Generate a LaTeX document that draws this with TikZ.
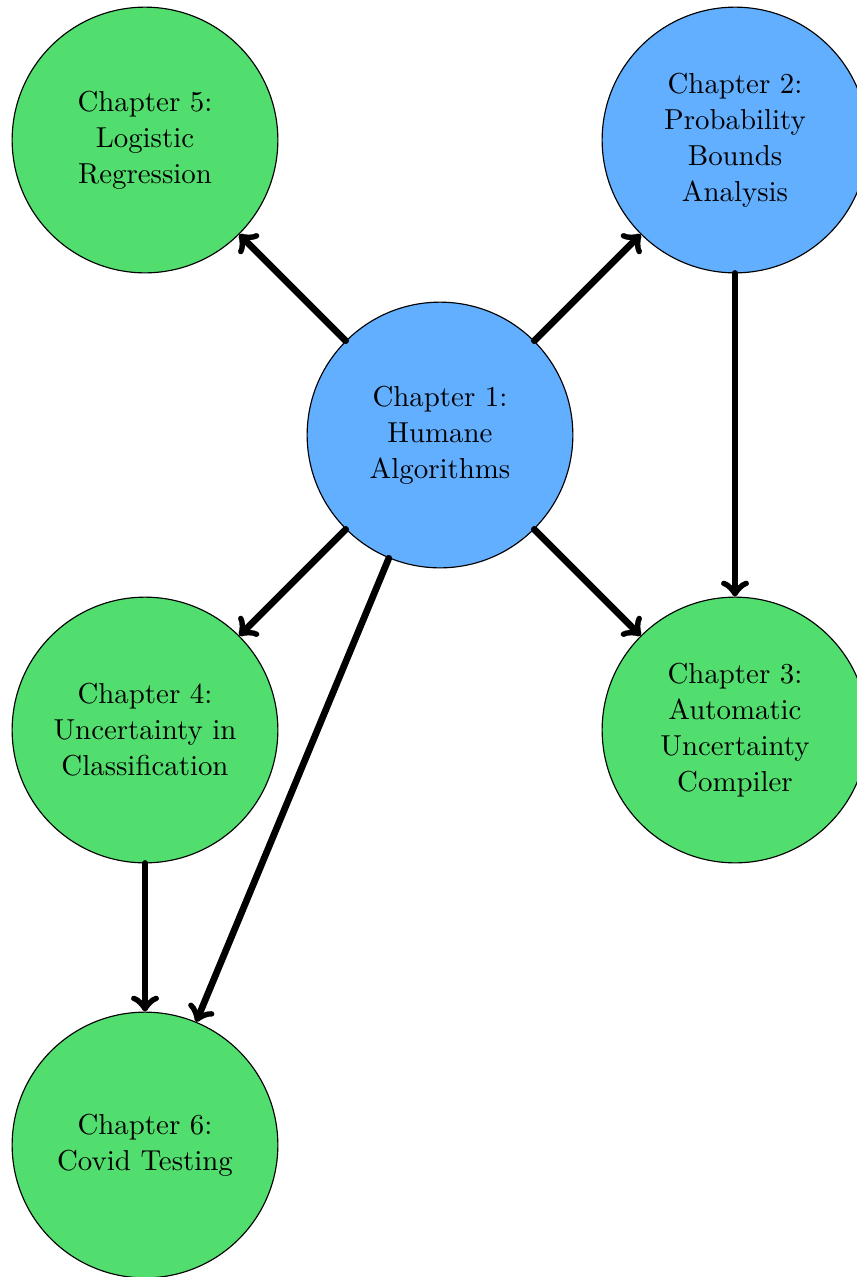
\documentclass[tikz,border=0pt]{standalone}
\definecolor{chapgreen}{RGB}{82,222,110}
\definecolor{chapblue}{RGB}{98,174,255}
\begin{document}
\begin{tikzpicture}[x=0.35pt,y=-0.35pt,
  chapter/.style={circle,draw=black,line width=0.4pt,minimum size=93pt,inner sep=0pt,
    align=center,font=\fontsize{10.1}{12.6}\selectfont},
  core/.style={chapter,fill=chapblue},
  applied/.style={chapter,fill=chapgreen},
  link/.style={->,line width=2.35pt,line cap=round,line join=round}]
\useasboundingbox (0,0) rectangle (857,1277);
\node[core]    (c1) at (440,435)  {Chapter 1:\\Humane\\Algorithms};
\node[core]    (c2) at (735,140)  {Chapter 2:\\Probability\\Bounds\\Analysis};
\node[applied] (c3) at (735,730)  {Chapter 3:\\Automatic\\Uncertainty\\Compiler};
\node[applied] (c4) at (145,730)  {Chapter 4:\\Uncertainty in\\Classification};
\node[applied] (c5) at (145,140)  {Chapter 5:\\Logistic\\Regression};
\node[applied] (c6) at (145,1145) {Chapter 6:\\Covid Testing};
\draw[link] (c1) -- (c5);
\draw[link] (c1) -- (c2);
\draw[link] (c2) -- (c3);
\draw[link] (c1) -- (c3);
\draw[link] (c1) -- (c4);
\draw[link] (c1) -- (c6);
\draw[link] (c4) -- (c6);
\end{tikzpicture}
\end{document}
